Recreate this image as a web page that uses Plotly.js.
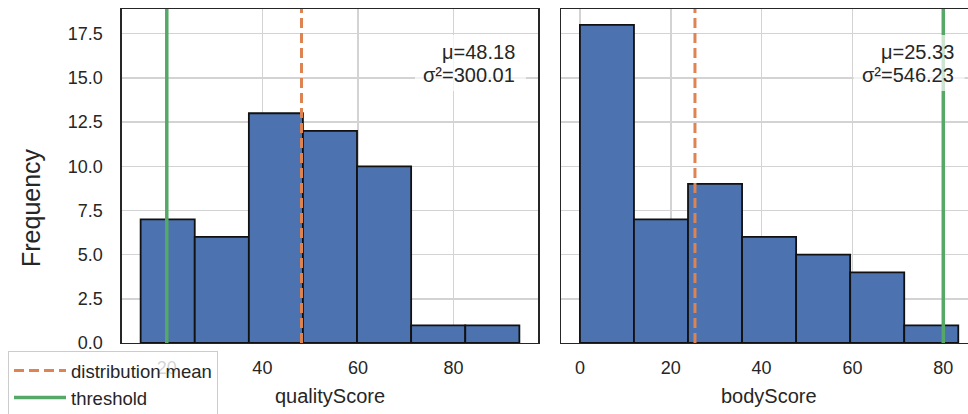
<!DOCTYPE html>
<html>
<head>
<meta charset="utf-8">
<script src="https://cdn.plot.ly/plotly-3.0.1.min.js"></script>
<style>html,body{margin:0;padding:0;background:#fff;overflow:hidden;}#chart{width:968px;height:420px;}</style>
</head>
<body>
<div id="chart"></div>
<script>
// ---- data ----
const qualityEdges = [14.53, 25.85, 37.17, 48.48, 59.80, 71.12, 82.44, 93.76];
const qualityCounts = [7, 6, 13, 12, 10, 1, 1];
const qualityMean = 48.18;
const qualityVar = 300.01;
const qualityThreshold = 20;

const bodyEdges = [0, 11.9, 23.8, 35.7, 47.6, 59.5, 71.4, 83.3];
const bodyCounts = [18, 7, 9, 6, 5, 4, 1];
const bodyMean = 25.33;
const bodyVar = 546.23;
const bodyThreshold = 80;

const qualityTicks = [20, 40, 60, 80];
const bodyTicks = [0, 20, 40, 60, 80];
const yTicks = [0, 2.5, 5, 7.5, 10, 12.5, 15, 17.5];

// ---- styling ----
const FONT = 'Liberation Sans, Arial, sans-serif';
const TXT = '#262626';
const BLUE = '#4c72b0';
const ORANGE = '#dd8452';
const GREEN = '#55a868';
const GRID = '#d3d3d3';
const Y_MAX = 18.9;

function centers(edges){ const c=[]; for(let i=0;i<edges.length-1;i++) c.push((edges[i]+edges[i+1])/2); return c; }
function widths(edges){ const w=[]; for(let i=0;i<edges.length-1;i++) w.push(edges[i+1]-edges[i]); return w; }

const traces = [
  {type:'bar', x:centers(qualityEdges), y:qualityCounts, width:widths(qualityEdges),
   marker:{color:BLUE, line:{color:'#111111', width:1.8}}, xaxis:'x', yaxis:'y', showlegend:false, hoverinfo:'skip'},
  {type:'bar', x:centers(bodyEdges), y:bodyCounts, width:widths(bodyEdges),
   marker:{color:BLUE, line:{color:'#111111', width:1.8}}, xaxis:'x2', yaxis:'y2', showlegend:false, hoverinfo:'skip'},
  {type:'scatter', mode:'lines', x:[qualityMean, qualityMean], y:[0, Y_MAX], xaxis:'x', yaxis:'y',
   line:{color:ORANGE, width:3, dash:'10px,5px'}, name:'distribution mean', showlegend:true, hoverinfo:'skip'},
  {type:'scatter', mode:'lines', x:[qualityThreshold, qualityThreshold], y:[0, Y_MAX], xaxis:'x', yaxis:'y',
   line:{color:GREEN, width:3.5}, name:'threshold', showlegend:true, hoverinfo:'skip'},
  {type:'scatter', mode:'lines', x:[bodyMean, bodyMean], y:[0, Y_MAX], xaxis:'x2', yaxis:'y2',
   line:{color:ORANGE, width:3, dash:'10px,5px'}, name:'distribution mean', showlegend:false, hoverinfo:'skip'},
  {type:'scatter', mode:'lines', x:[bodyThreshold, bodyThreshold], y:[0, Y_MAX], xaxis:'x2', yaxis:'y2',
   line:{color:GREEN, width:3.5}, name:'threshold', showlegend:false, hoverinfo:'skip'}
];

const W = 968, H = 420, T = 9, B = 77;
const px = v => v / W;
const py = v => (H - B - v) / (H - T - B);

const axisCommon = {
  showgrid:true, gridcolor:GRID, gridwidth:1.5, zeroline:false, automargin:false,
  showline:true, linecolor:TXT, linewidth:1.25, ticks:'',
  tickfont:{family:FONT, size:18, color:TXT}
};

const layout = {
  width:W, height:H,
  margin:{l:0, r:0, t:T, b:B, pad:0, autoexpand:false},
  paper_bgcolor:'#ffffff', plot_bgcolor:'#ffffff',
  font:{family:FONT, color:TXT},
  bargap:0,
  xaxis:Object.assign({}, axisCommon, {domain:[px(121.7), px(538.3)], range:[10.57, 97.72], tickvals:qualityTicks, mirror:true, anchor:'y', ticklabelstandoff:8}),
  yaxis:Object.assign({}, axisCommon, {range:[0, Y_MAX], tickvals:yTicks, tickformat:'.1f', mirror:true, anchor:'x', ticklabelstandoff:14}),
  xaxis2:Object.assign({}, axisCommon, {domain:[px(561), 1], range:[-4.165, 85.44], tickvals:bodyTicks, mirror:true, anchor:'y2', ticklabelstandoff:8}),
  yaxis2:Object.assign({}, axisCommon, {matches:'y', range:[0, Y_MAX], tickvals:yTicks, showticklabels:false, mirror:false, anchor:'x2'}),
  showlegend:true,
  legend:{xref:'container', yref:'container', x:8/W, y:(H-351)/H, xanchor:'left', yanchor:'top', bgcolor:'rgba(255,255,255,0.8)',
          bordercolor:'#cccccc', borderwidth:1, itemwidth:52, font:{family:FONT, size:18.5, color:TXT}, traceorder:'normal'},
  shapes:[
    {type:'rect', xref:'paper', yref:'paper', x0:px(415), x1:px(526), y0:py(91), y1:py(35), fillcolor:'rgba(255,255,255,0.7)', line:{width:0}, layer:'above'},
    {type:'rect', xref:'paper', yref:'paper', x0:px(853.6), x1:px(964.6), y0:py(91), y1:py(35), fillcolor:'rgba(255,255,255,0.7)', line:{width:0}, layer:'above'}
  ],
  annotations:[
    {xref:'paper', yref:'paper', x:px(517), y:py(52), xanchor:'right', yanchor:'middle', showarrow:false, text:'μ=' + qualityMean.toFixed(2), font:{family:FONT, size:20, color:TXT}},
    {xref:'paper', yref:'paper', x:px(517), y:py(75), xanchor:'right', yanchor:'middle', showarrow:false, text:'σ²=' + qualityVar.toFixed(2), font:{family:FONT, size:20, color:TXT}},
    {xref:'paper', yref:'paper', x:px(955.7), y:py(52), xanchor:'right', yanchor:'middle', showarrow:false, text:'μ=' + bodyMean.toFixed(2), font:{family:FONT, size:20, color:TXT}},
    {xref:'paper', yref:'paper', x:px(955.7), y:py(75), xanchor:'right', yanchor:'middle', showarrow:false, text:'σ²=' + bodyVar.toFixed(2), font:{family:FONT, size:20, color:TXT}},
    {xref:'paper', yref:'paper', x:px(330), y:py(396), xanchor:'center', yanchor:'middle', showarrow:false, text:'qualityScore', font:{family:FONT, size:20, color:TXT}},
    {xref:'paper', yref:'paper', x:px(769.3), y:py(396), xanchor:'center', yanchor:'middle', showarrow:false, text:'bodyScore', font:{family:FONT, size:20, color:TXT}},
    {xref:'paper', yref:'paper', x:px(31), y:py(207), xanchor:'center', yanchor:'middle', showarrow:false, textangle:-90, text:'Frequency', font:{family:FONT, size:25, color:TXT}}
  ]
};

Plotly.newPlot('chart', traces, layout, {displayModeBar:false, staticPlot:true});
</script>
</body>
</html>
